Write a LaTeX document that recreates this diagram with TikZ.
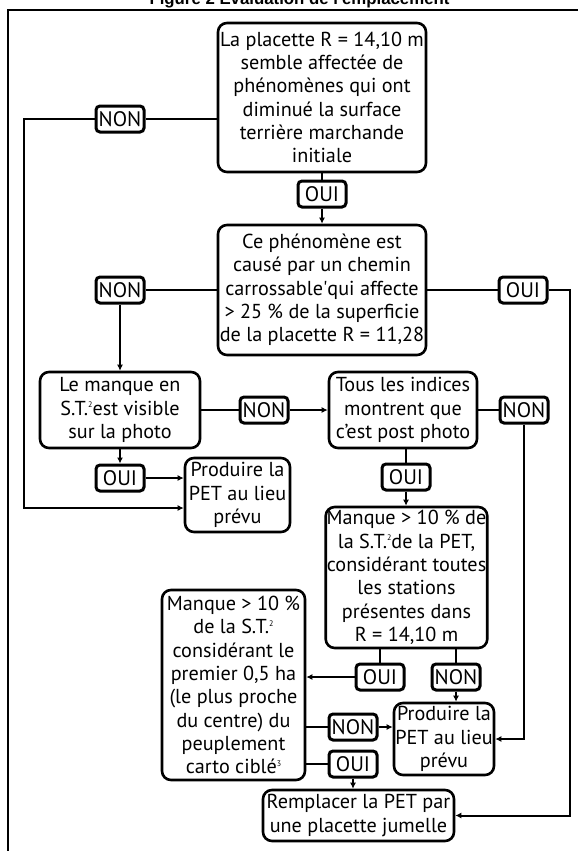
\documentclass[tikz,border=0pt]{standalone}
\usepackage{fontspec}
\setmainfont{PT Sans}
\newfontfamily\titlefont{Liberation Sans}
\usetikzlibrary{arrows.meta,positioning,calc}
\newcommand{\supnum}[1]{\raisebox{0.75ex}{\fontsize{8}{8}\selectfont #1}}

\begin{document}
\begin{tikzpicture}[
  x=1pt, y=-1pt,
  block/.style={draw, line width=2.6pt, rounded corners=9pt, align=center, inner sep=1pt, font=\fontsize{20.2}{23.3}\selectfont},
  tag/.style={draw, line width=3pt, rounded corners=4pt, inner sep=2pt, minimum width=48pt, minimum height=26pt, font=\fontsize{21}{22}\selectfont},
  link/.style={line width=2pt},
  arrow/.style={-{Latex[length=6pt,width=6pt]}, line width=2pt}
]
\useasboundingbox (0,0) rectangle (578,851);
\node[anchor=base, font=\titlefont\bfseries\fontsize{16.8}{18}\selectfont] (titre) at (299.5,5) {Figure 2 Évaluation de l'emplacement};
\draw[line width=2.6pt] (8,860) -- (8,10) -- (590,10);
\coordinate (lft) at (24,0);
\coordinate (rgt) at (570,0);

% boxes
\node[block, minimum width=208pt, minimum height=149pt] (plac) at (322,97.5) {La placette R = 14,10 m\\semble affectée de\\phénomènes qui ont\\diminué la surface\\terrière marchande\\initiale};
\node[block, minimum width=208pt, minimum height=130pt] (chemin) at (322,290) {Ce phénomène est\\causé par un chemin\\carrossable\textquotesingle qui affecte\\> 25 \% de la superficie\\de la placette R = 11,28};
\node[block, minimum width=160pt, minimum height=76pt] (visible) at (120,410) {Le manque en\\S.T.\supnum{2}est visible\\sur la photo};
\node[block, minimum width=148pt, minimum height=76pt] (indices) at (403,410) {Tous les indices\\montrent que\\c’est post photo};
\node[block, minimum width=105pt, minimum height=74pt] (prod1) at (237.5,495) {Produire la\\PET au lieu\\prévu};
\node[block, minimum width=159pt, minimum height=141pt] (stations) at (406.5,577.5) {Manque > 10 \% de\\la S.T.\supnum{2}de la PET,\\considérant toutes\\les stations\\présentes dans\\R = 14,10 m};
\node[block, minimum width=143pt, minimum height=190pt] (premier) at (233.5,685) {Manque > 10 \%\\de la S.T.\supnum{2}\\considérant le\\premier 0,5 ha\\(le plus proche\\du centre) du\\peuplement\\carto ciblé\supnum{3}};
\node[block, minimum width=100pt, minimum height=72pt] (prod2) at (444,739) {Produire la\\PET au lieu\\prévu};
\node[block, minimum width=191pt, minimum height=51pt] (jumelle) at (358.5,815.5) {Remplacer la PET par\\une placette jumelle};

% answers
\node[tag] (non1) at (120,119) {NON};
\node[tag] (oui1) at (322,194) {OUI};
\node[tag] (non2) at (120,290) {NON};
\node[tag] (oui2) at (523,290) {OUI};
\node[tag] (non3) at (264,410) {NON};
\node[tag] (non4) at (524,410) {NON};
\node[tag] (oui3) at (120,478) {OUI};
\node[tag] (oui4) at (406,477) {OUI};
\node[tag] (oui5) at (380,677) {OUI};
\node[tag] (non5) at (456,677) {NON};
\node[tag] (non6) at (353,727) {NON};
\node[tag] (oui6) at (353,764) {OUI};

% connectors
\draw[link] (plac.west |- non1) -- (non1);
\draw[arrow] (non1.west) -- (lft |- non1) |- ([yshift=-13pt]prod1.west);
\draw[link] (plac) -- (oui1);
\draw[arrow] (oui1) -- (chemin);
\draw[link] (chemin) -- (non2);
\draw[arrow] (non2) -- (visible);
\draw[link] (chemin) -- (oui2);
\draw[arrow] (oui2.east) -- (rgt |- oui2) |- (jumelle.east);
\draw[link] (visible) -- (non3);
\draw[arrow] (non3) -- (indices);
\draw[link] (indices) -- (non4);
\draw[arrow] (non4.south) |- (prod2.east);
\draw[arrow] (visible) -- (oui3);
\draw[arrow] (oui3) -- (oui3 -| prod1.west);
\draw[link] (indices.south -| oui4) -- (oui4);
\draw[arrow] (oui4) -- (oui4 |- stations.north);
\draw[link] (stations.south -| oui5) -- (oui5);
\draw[link] (stations.south -| non5) -- (non5);
\draw[arrow] (oui5) -- (oui5 -| premier.east);
\draw[arrow] (non5) -- (non5 |- prod2.north);
\draw[link] (premier.east |- non6) -- (non6);
\draw[arrow] (non6) -- (non6 -| prod2.west);
\draw[link] (premier.east |- oui6) -- (oui6);
\draw[arrow] (oui6) -- (oui6 |- jumelle.north);
\end{tikzpicture}
\end{document}
